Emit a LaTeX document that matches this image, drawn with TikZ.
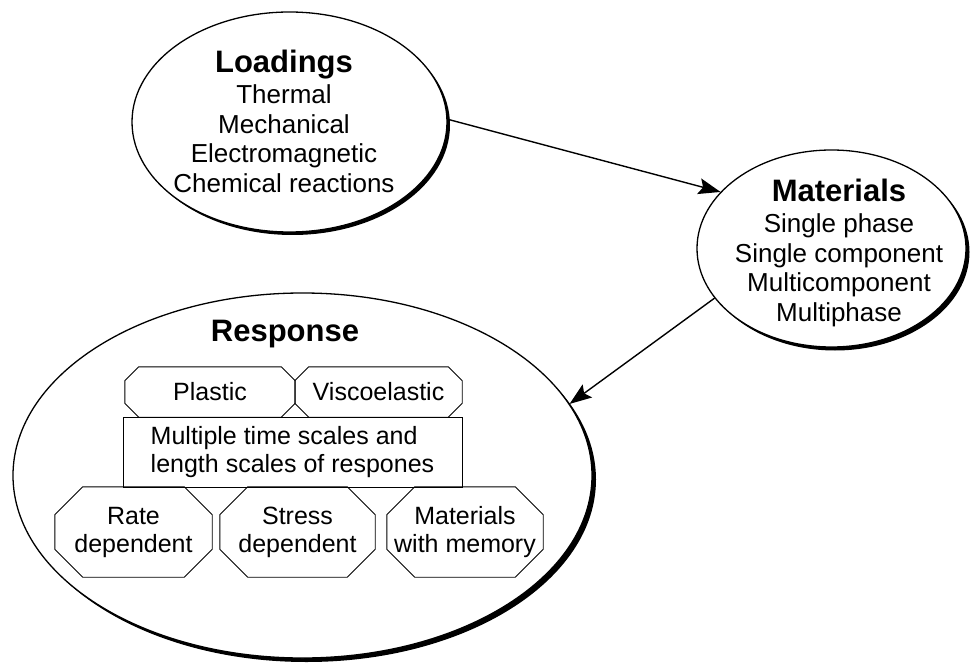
\documentclass[tikz,border=0pt]{standalone}
\usepackage{fontspec}
\setmainfont{Liberation Sans}
\usetikzlibrary{arrows.meta,shapes.geometric,shadows}

\begin{document}
\begin{tikzpicture}[x=1pt, y=-1pt,
    bubble/.style={ellipse, draw, fill=white, line width=1.3pt, inner sep=0pt},
    heavy/.style={drop shadow={shadow xshift=#1, shadow yshift=-#1, fill=black, opacity=1}},
    body/.style={align=center, font=\fontsize{26}{29.5}\selectfont},
    title/.style={font=\fontsize{31}{31}\selectfont\bfseries},
    facet/.style={rectangle, inner sep=0pt, align=center, font=\fontsize{25}{28}\selectfont},
    frame/.style={rectangle, draw, line width=0.9pt, inner sep=0pt, align=left,
        font=\fontsize{25}{28}\selectfont},
    rim/.style={draw, line width=0.9pt},
    flow/.style={line width=1.4pt, -{Stealth[length=22pt, width=16pt, inset=4pt]}}]
    \useasboundingbox (0,0) rectangle (971,668);

    % the three bubbles
    \node[bubble, heavy=4pt, minimum width=579, minimum height=365] (resp) at (302.5,475.5) {};
    \node[bubble, heavy=3pt, minimum width=315, minimum height=220] (load) at (289.5,122) {};
    \node[bubble, heavy=3.5pt, minimum width=269, minimum height=197] (mat) at (831.5,248.5) {};

    \node[body] (loadtext) at (284,121) {{\fontsize{31}{31}\selectfont\bfseries Loadings}\\[2pt]
        Thermal\\ Mechanical\\ Electromagnetic\\ Chemical reactions};
    \node[body] (mattext) at (839,252.5) {{\fontsize{31}{31}\selectfont\bfseries Materials}\\[2pt]
        Single phase\\ Single component\\ Multicomponent\\ Multiphase};
    \node[title] (resptext) at (285,334) {Response};

    % inside the response
    \node[facet, minimum width=170, minimum height=50] (plastic) at (210,392) {Plastic};
    \node[facet, minimum width=167, minimum height=50] (visco) at (378.5,392) {Viscoelastic};
    \node[frame, minimum width=339, minimum height=70] (scales) at (292.5,452)
        {Multiple time scales and\\ length scales of respones};
    \node[facet, minimum width=157, minimum height=90] (rate) at (133.5,532) {Rate\\ dependent};
    \node[facet, minimum width=155, minimum height=90] (stress) at (297.5,532) {Stress\\ dependent};
    \node[facet, minimum width=156, minimum height=90] (memory) at (465,532) {Materials\\ with memory};
    \foreach \n/\c in {plastic/14, visco/14, rate/28, stress/28, memory/28} {
        \draw[rim] ([xshift=\c pt]\n.north west) -- ([xshift=-\c pt]\n.north east)
            -- ([yshift=-\c pt]\n.north east) -- ([yshift=\c pt]\n.south east)
            -- ([xshift=-\c pt]\n.south east) -- ([xshift=\c pt]\n.south west)
            -- ([yshift=\c pt]\n.south west) -- ([yshift=-\c pt]\n.north west) -- cycle;
    }

    \draw[flow] (load.1) -- (mat.153);
    \draw[flow] (mat.203) -- (resp.15);
\end{tikzpicture}
\end{document}
